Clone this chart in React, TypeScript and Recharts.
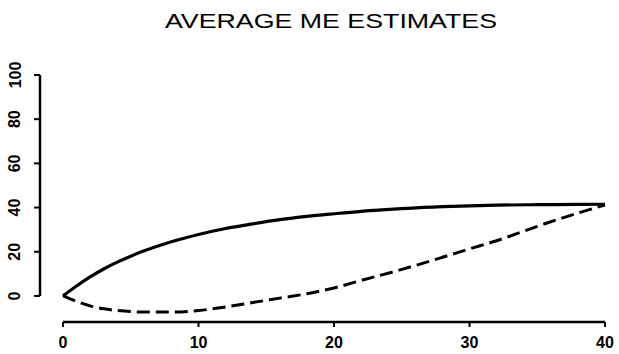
import React from 'react';
import { LineChart, Line, XAxis, YAxis, ReferenceLine } from 'recharts';

const xValues = [0, 1, 2, 3, 4, 5, 6, 8, 10, 12, 14, 16, 18, 20, 22, 25, 28, 30, 32, 35, 38, 40];
const upperCurve = [0, 4.5, 8.6, 12.2, 15.3, 18, 20.4, 24.5, 27.8, 30.5, 32.6, 34.5, 36, 37.2, 38.3, 39.5, 40.4, 40.8, 41.1, 41.3, 41.4, 41.5];
const dashedCurve = [0, -2.5, -4.5, -5.8, -6.6, -7.1, -7.3, -7.3, -6.6, -5, -3, -1, 1, 3.6, 7, 12, 17.5, 21.3, 25, 31.5, 37.5, 41.2];
const xTicks = [0, 10, 20, 30, 40];
const yTicks = [0, 20, 40, 60, 80, 100];

const X_MIN = -1.7;
const Y_MIN = -11.8;

const data = xValues.map((x, i) => ({ x, upper: upperCurve[i], lower: dashedCurve[i] }));

const font = 'Liberation Sans, Arial, sans-serif';

const YTick = (props: any) => {
  const { y, payload } = props;
  return (
    <text
      x={15}
      y={y}
      transform={`rotate(-90 15 ${y})`}
      textAnchor="middle"
      dominantBaseline="central"
      fontFamily={font}
      fontWeight="bold"
      fontSize={16}
      fill="#000"
    >
      {payload.value}
    </text>
  );
};

const App: React.FC = () => {
  return (
    <div style={{ position: 'absolute', left: 0, top: 0, width: 619, height: 354, background: '#fff' }}>
      <svg width={619} height={354} style={{ position: 'absolute', left: 0, top: 0 }}>
        <text
          x={331}
          y={28}
          textAnchor="middle"
          fontFamily={font}
          fontSize={20}
          textLength={332}
          lengthAdjust="spacingAndGlyphs"
          fill="#000"
        >
          AVERAGE ME ESTIMATES
        </text>
      </svg>
      <div style={{ position: 'absolute', left: 0, top: 0 }}>
        <LineChart width={619} height={354} data={data} margin={{ top: 75, right: 14, left: 0, bottom: 0 }}>
          <XAxis
            dataKey="x"
            type="number"
            domain={[X_MIN, 40]}
            ticks={xTicks}
            axisLine={false}
            tickLine={{ stroke: '#000', strokeWidth: 2 }}
            tickSize={5}
            tickMargin={10}
            height={32}
            tick={{ fill: '#000', fontSize: 16, fontWeight: 'bold', fontFamily: font }}
          />
          <YAxis
            type="number"
            domain={[Y_MIN, 100]}
            ticks={yTicks}
            axisLine={false}
            tickLine={{ stroke: '#000', strokeWidth: 2 }}
            tickSize={6}
            width={40}
            tick={<YTick />}
          />
          <ReferenceLine
            segment={[{ x: 0, y: Y_MIN }, { x: 40, y: Y_MIN }]}
            stroke="#000"
            strokeWidth={2.5}
            ifOverflow="visible"
          />
          <ReferenceLine
            segment={[{ x: X_MIN, y: 0 }, { x: X_MIN, y: 100 }]}
            stroke="#000"
            strokeWidth={2.5}
            ifOverflow="visible"
          />
          <Line
            type="monotone"
            dataKey="upper"
            stroke="#000"
            strokeWidth={3.2}
            dot={false}
            isAnimationActive={false}
          />
          <Line
            type="monotone"
            dataKey="lower"
            stroke="#000"
            strokeWidth={3}
            strokeDasharray="13 6"
            dot={false}
            isAnimationActive={false}
          />
        </LineChart>
      </div>
    </div>
  );
};

export default App;
